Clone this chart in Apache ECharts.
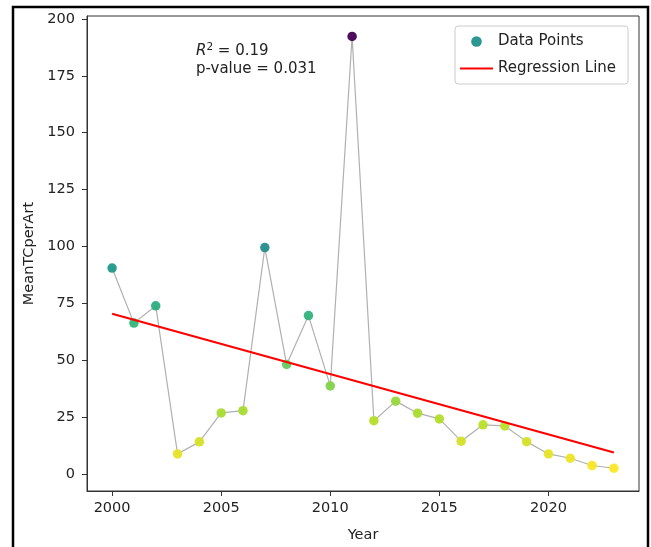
<!DOCTYPE html>
<html>
<head>
<meta charset="utf-8">
<script src="https://cdn.jsdelivr.net/npm/echarts@6/dist/echarts.min.js"></script>
<style>html,body{margin:0;padding:0;background:#fff;}#c{width:651px;height:547px;}</style>
</head>
<body>
<div id="c"></div>
<script>
var years = [2000,2001,2002,2003,2004,2005,2006,2007,2008,2009,2010,2011,2012,2013,2014,2015,2016,2017,2018,2019,2020,2021,2022,2023];
var meanTC = [90.5,66.3,73.9,8.8,14.1,26.8,27.8,99.5,48.1,69.6,38.7,192.3,23.4,32.0,26.7,24.2,14.4,21.6,21.1,14.2,8.8,6.9,3.7,2.5];
var regYears = [2000, 2023];
var regValues = [70.4, 9.4];
var yTicks = [0,25,50,75,100,125,150,175,200];
var xTicks = [2000,2005,2010,2015,2020];
var annotR2 = '0.19';
var annotP = '0.031';

var viridisR = ['#fde725','#b5de2b','#6ece58','#35b779','#1f9e89','#26828e','#31688e','#3e4989','#482878','#440154'];
var pts = years.map(function(y,i){return [y, meanTC[i]];});
var reg = regYears.map(function(y,i){return [y, regValues[i]];});
var font = 'DejaVu Sans';
var chart = echarts.init(document.getElementById('c'), null, {renderer:'canvas'});
chart.setOption({
  animation:false,
  textStyle:{fontFamily:font},
  grid:{left:87, top:16, right:12, bottom:56, show:true, borderColor:'#333', borderWidth:1, backgroundColor:'transparent',
    containLabel:false, outerBoundsMode:'none'},
  xAxis:{type:'value', min:1998.85, max:2024.15, name:'Year', nameLocation:'middle', nameGap:37,
    nameTextStyle:{fontSize:14.5, color:'#222', fontFamily:font},
    splitLine:{show:false},
    axisLine:{show:true, onZero:false, lineStyle:{color:'#333'}},
    axisTick:{show:true, length:5, customValues:xTicks, lineStyle:{color:'#333'}},
    axisLabel:{customValues:xTicks, fontSize:14.5, color:'#222', margin:10, fontFamily:font,
      formatter:function(v){return String(v);}}
  },
  yAxis:{type:'value', min:-7.5, max:201.3, name:'MeanTCperArt', nameLocation:'middle', nameGap:43, nameRotate:90,
    nameTextStyle:{fontSize:14.5, color:'#222', fontFamily:font},
    splitLine:{show:false},
    axisLine:{show:true, onZero:false, lineStyle:{color:'#333'}},
    axisTick:{show:true, length:5, customValues:yTicks, lineStyle:{color:'#333'}},
    axisLabel:{customValues:yTicks, fontSize:14.5, color:'#222', margin:12, fontFamily:font}
  },
  visualMap:{show:false, type:'continuous', seriesIndex:1, dimension:1,
    min:Math.min.apply(null, meanTC), max:Math.max.apply(null, meanTC),
    inRange:{color:viridisR}},
  legend:{left:455, top:26, orient:'vertical',
    data:[{name:'Data Points', icon:'circle'},
          {name:'Regression Line', icon:'path://M0,4.2h33v2.2h-33z M0,0h0.01v0.01h-0.01z M32.99,10.6h0.01v0.01h-0.01z'}],
    backgroundColor:'rgba(255,255,255,0.8)', borderColor:'#ccc', borderWidth:1, borderRadius:3,
    padding:[8,12,8,5], itemGap:12, itemWidth:33, itemHeight:10.6,
    textStyle:{fontSize:15, color:'#222', fontFamily:font}},
  series:[
    {name:'connect', type:'line', data:pts, symbol:'none', lineStyle:{color:'#b0b0b0', width:1.2}, z:1, silent:true},
    {name:'Data Points', type:'scatter', data:pts, symbolSize:9.5, itemStyle:{color:'#21918c', opacity:0.95}, z:3},
    {name:'Regression Line', type:'line', data:reg, symbol:'none', lineStyle:{color:'#ff0000', width:2.2}, itemStyle:{color:'#ff0000'}, z:4}
  ],
  graphic:[
    {type:'text', left:196, top:42, style:{
      rich:{i:{fontStyle:'italic', fontSize:15, fontFamily:font, fill:'#222'},
            s:{fontSize:10.5, fontFamily:font, fill:'#222', verticalAlign:'top', padding:[0,0,8,0]},
            n:{fontSize:15, fontFamily:font, fill:'#222'}},
      text:'{i|R}{s|2}{n| = ' + annotR2 + '}\n{n|p-value = ' + annotP + '}',
      lineHeight:18
    }},
    {type:'rect', shape:{x:13, y:7, width:635, height:560}, style:{fill:'none', stroke:'#000', lineWidth:2.5}, silent:true}
  ]
});
</script>
</body>
</html>
